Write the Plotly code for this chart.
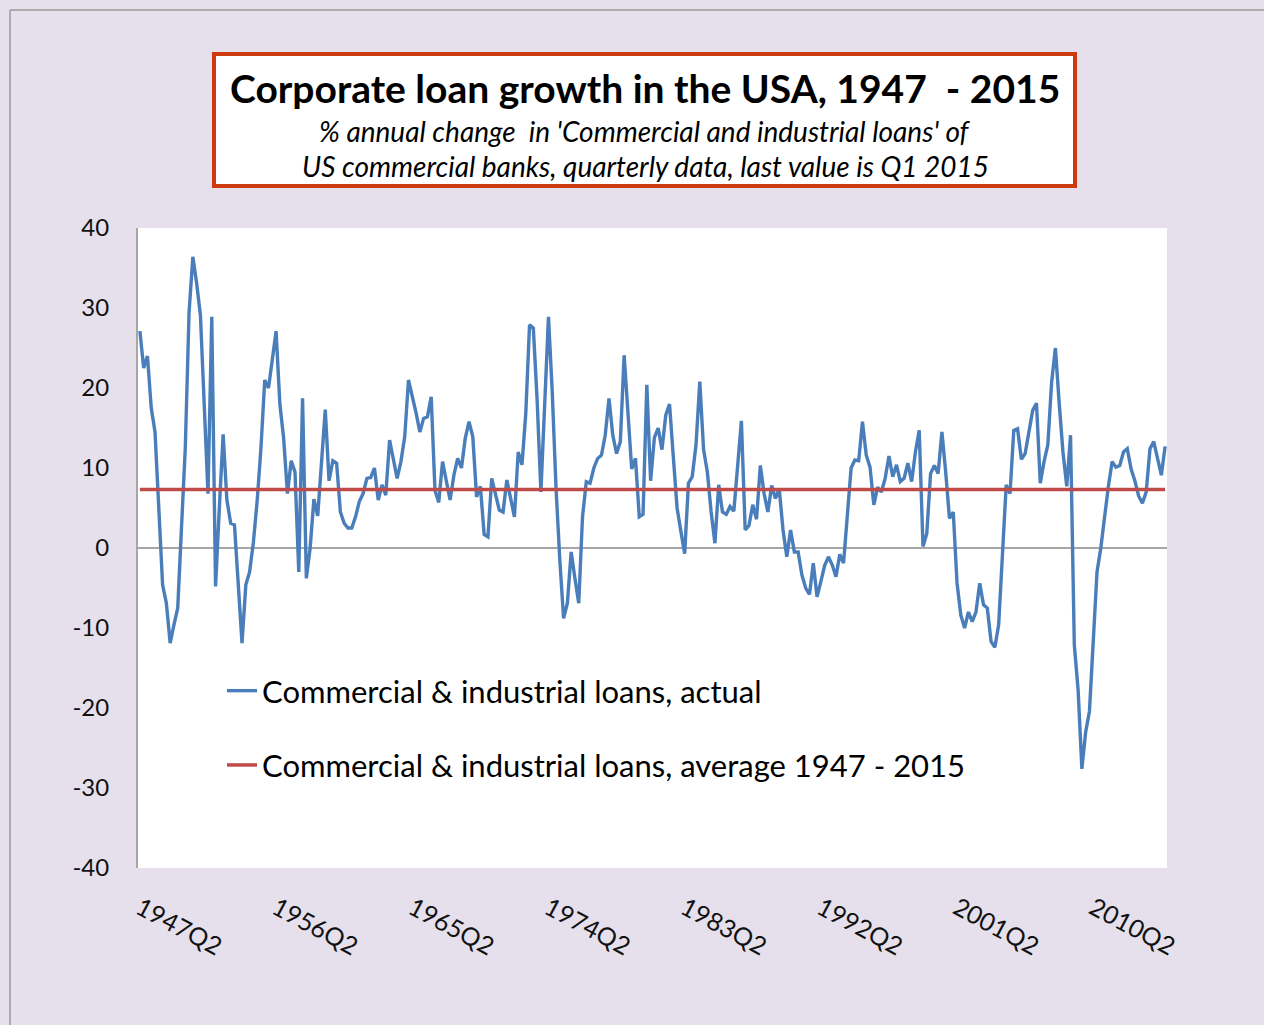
import plotly.graph_objects as go

# ---- data ----
START_YEAR, START_Q = 1947, 2
LOAN_GROWTH = [
    27.1, 22.5, 24.0, 17.5, 14.5, 5.0, -4.6, -6.9, -11.9, -9.6,
    -7.5, 2.6, 12.5, 29.5, 36.4, 33.1, 29.1, 18.0, 6.8, 28.9,
    -4.8, 5.0, 14.2, 6.0, 3.1, 2.9, -4.0, -11.9, -4.6, -3.0,
    0.7, 5.9, 12.5, 21.0, 20.0, 23.5, 27.1, 18.0, 13.7, 6.8,
    10.9, 9.5, -3.0, 18.7, -3.8, 0.0, 6.1, 4.0, 10.5, 17.3,
    8.4, 10.9, 10.6, 4.5, 3.1, 2.5, 2.5, 3.9, 5.8, 6.8,
    8.7, 8.8, 10.0, 6.0, 7.9, 6.6, 13.5, 10.8, 8.7, 10.8,
    13.9, 21.0, 19.0, 16.9, 14.5, 16.2, 16.4, 18.9, 7.2, 5.7,
    10.8, 8.4, 6.0, 9.1, 11.2, 10.0, 13.7, 15.8, 13.9, 6.4,
    7.7, 1.7, 1.4, 8.7, 6.9, 4.75, 4.5, 8.5, 6.2, 3.9,
    12.0, 10.4, 16.8, 27.9, 27.5, 18.5, 7.0, 17.9, 28.9, 19.5,
    7.5, -1.5, -8.8, -6.9, -0.5, -3.8, -6.9, 3.9, 8.3, 8.1,
    10.0, 11.2, 11.6, 14.1, 18.7, 14.1, 11.8, 13.3, 24.1, 17.0,
    9.9, 11.2, 3.9, 4.2, 20.4, 8.4, 13.8, 15.0, 12.3, 16.6,
    18.0, 11.4, 5.0, 2.1, -0.7, 8.1, 8.9, 12.9, 20.8, 12.3,
    9.5, 4.5, 0.6, 7.9, 4.5, 4.2, 5.2, 4.6, 10.0, 15.9,
    2.25, 2.8, 5.4, 3.6, 10.3, 6.8, 4.5, 7.8, 6.2, 7.4,
    2.25, -1.1, 2.25, -0.5, -0.5, -3.4, -5.0, -5.8, -1.9, -6.1,
    -4.2, -2.2, -1.1, -2.1, -3.6, -0.8, -1.9, 4.5, 10.0, 11.0,
    10.9, 15.8, 11.6, 10.1, 5.4, 7.6, 7.0, 8.7, 11.5, 8.9,
    10.4, 8.3, 8.7, 10.6, 8.3, 12.0, 14.7, 0.2, 1.8, 9.3,
    10.3, 9.3, 14.5, 9.5, 3.7, 4.5, -4.4, -8.4, -10.0, -8.0,
    -9.2, -8.0, -4.4, -7.1, -7.5, -11.7, -12.4, -9.6, -0.5, 7.9,
    6.8, 14.7, 14.9, 11.1, 11.8, 14.8, 17.2, 18.1, 8.1, 10.8,
    12.9, 20.7, 25.0, 18.1, 12.0, 7.7, 14.1, -12.1, -17.7, -27.6,
    -23.0, -20.4, -11.5, -3.0, 0.0, 4.3, 7.7, 10.8, 10.1, 10.3,
    12.0, 12.4, 9.9, 8.4, 6.5, 5.6, 7.0, 12.4, 13.3, 11.2,
    9.1, 12.7,
]
AVERAGE = 7.3
TICK_LABELS = ["1947Q2", "1956Q2", "1965Q2", "1974Q2", "1983Q2",
               "1992Q2", "2001Q2", "2010Q2"]
Y_TICKS = [-40, -30, -20, -10, 0, 10, 20, 30, 40]
Y_TICK_TEXT = ["-40", "-30", "-20", "-10", "0", "10", "20", "30", "40"]

QUARTERS = []
y, q = START_YEAR, START_Q
for _ in LOAN_GROWTH:
    QUARTERS.append(f"{y}Q{q}")
    q += 1
    if q > 4:
        q = 1
        y += 1

FONT = "Lato, 'Open Sans', sans-serif"
BG = "#E5E0EC"

fig = go.Figure()
fig.add_trace(go.Scatter(
    x=QUARTERS, y=LOAN_GROWTH, mode="lines",
    name="Commercial & industrial loans, actual",
    line=dict(color="#4A7EBB", width=3.4),
    legendgroup="a",
))
fig.add_trace(go.Scatter(
    x=QUARTERS, y=[AVERAGE] * len(QUARTERS), mode="lines",
    name="Commercial & industrial loans, average 1947 - 2015",
    line=dict(color="#BE4B48", width=3.5),
    legendgroup="b",
))

L, R, T, B = 138, 1167, 228, 868
W, H = 1264, 1025
pw, ph = R - L, B - T


def px(x):
    return (x - L) / pw


def py(yy):
    return (B - yy) / ph


fig.update_layout(
    width=W, height=H,
    margin=dict(l=L, r=W - R, t=T, b=H - B, pad=0),
    paper_bgcolor=BG, plot_bgcolor="white",
    font=dict(family=FONT, color="#111111"),
    showlegend=True,
    legend=dict(
        x=px(222), y=py(664), xanchor="left", yanchor="top",
        bgcolor="rgba(0,0,0,0)", font=dict(size=31, family=FONT, color="#000"),
        tracegroupgap=31, itemwidth=30,
    ),
    xaxis=dict(
        type="category", tickmode="array", tickvals=TICK_LABELS, ticktext=TICK_LABELS,
        tickangle=28, showgrid=False, showline=False, zeroline=False, ticks="",
        tickfont=dict(size=25, family=FONT, color="#111"),
        ticklabelstandoff=20,
        range=[-0.5, len(QUARTERS) - 0.5],
    ),
    yaxis=dict(
        range=[-40, 40], tickvals=Y_TICKS, ticktext=Y_TICK_TEXT, showgrid=False,
        showline=True, linecolor="#A6A6A6", linewidth=2,
        zeroline=True, zerolinecolor="#A6A6A6", zerolinewidth=1.5,
        ticks="", tickfont=dict(size=24, family=FONT, color="#111"),
        ticklabelstandoff=22,
    ),
    shapes=[
        dict(type="line", xref="paper", yref="paper",
             x0=px(10), x1=px(W), y0=py(10), y1=py(10),
             line=dict(color="#9A9A9A", width=1.5)),
        dict(type="line", xref="paper", yref="paper",
             x0=px(10), x1=px(10), y0=py(10), y1=py(H),
             line=dict(color="#9A9A9A", width=1.5)),
        dict(type="rect", xref="paper", yref="paper",
             x0=px(214), x1=px(1075), y0=py(186), y1=py(54),
             fillcolor="white", line=dict(color="#CC3A0E", width=4)),
    ],
    annotations=[
        dict(text="<b>Corporate loan growth in the USA, 1947  - 2015</b>",
             xref="paper", yref="paper", x=px(645), y=py(88),
             xanchor="center", yanchor="middle", showarrow=False,
             font=dict(size=39, family=FONT, color="#000")),
        dict(text="<i>% annual change  in 'Commercial and industrial loans' of</i>",
             xref="paper", yref="paper", x=px(645), y=py(131),
             xanchor="center", yanchor="middle", showarrow=False,
             font=dict(size=28, family=FONT, color="#000")),
        dict(text="<i>US commercial banks, quarterly data, last value is Q1 2015</i>",
             xref="paper", yref="paper", x=px(645), y=py(166),
             xanchor="center", yanchor="middle", showarrow=False,
             font=dict(size=28, family=FONT, color="#000")),
    ],
)

fig.write_html("out.html")
